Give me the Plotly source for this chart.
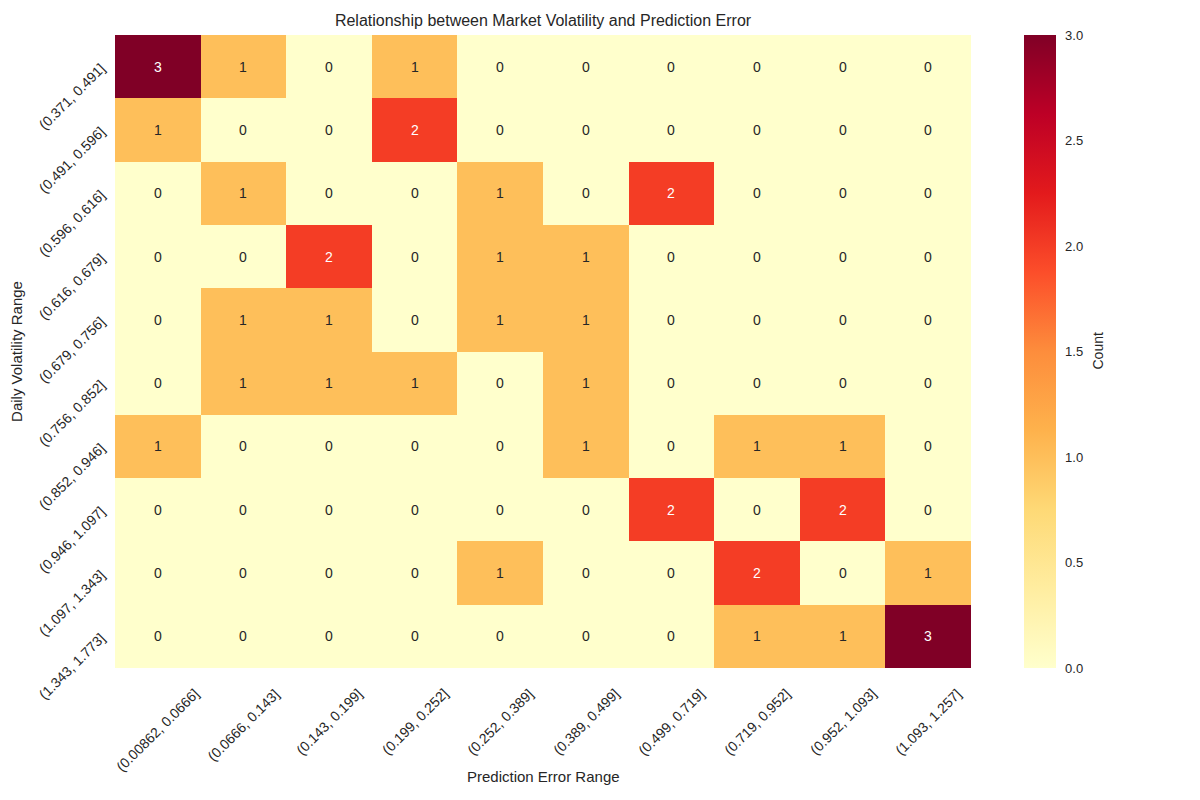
import plotly.graph_objects as go

x_labels = ["(0.00862, 0.0666]", "(0.0666, 0.143]", "(0.143, 0.199]", "(0.199, 0.252]",
            "(0.252, 0.389]", "(0.389, 0.499]", "(0.499, 0.719]", "(0.719, 0.952]",
            "(0.952, 1.093]", "(1.093, 1.257]"]
y_labels = ["(0.371, 0.491]", "(0.491, 0.596]", "(0.596, 0.616]", "(0.616, 0.679]",
            "(0.679, 0.756]", "(0.756, 0.852]", "(0.852, 0.946]", "(0.946, 1.097]",
            "(1.097, 1.343]", "(1.343, 1.773]"]
counts = [
    [3, 1, 0, 1, 0, 0, 0, 0, 0, 0],
    [1, 0, 0, 2, 0, 0, 0, 0, 0, 0],
    [0, 1, 0, 0, 1, 0, 2, 0, 0, 0],
    [0, 0, 2, 0, 1, 1, 0, 0, 0, 0],
    [0, 1, 1, 0, 1, 1, 0, 0, 0, 0],
    [0, 1, 1, 1, 0, 1, 0, 0, 0, 0],
    [1, 0, 0, 0, 0, 1, 0, 1, 1, 0],
    [0, 0, 0, 0, 0, 0, 2, 0, 2, 0],
    [0, 0, 0, 0, 1, 0, 0, 2, 0, 1],
    [0, 0, 0, 0, 0, 0, 0, 1, 1, 3],
]

ylorrd = [
    [0.0, "#ffffcc"], [0.125, "#ffeda0"], [0.25, "#fed976"], [0.375, "#feb24c"],
    [0.5, "#fd8d3c"], [0.625, "#fc4e2a"], [0.75, "#e31a1c"], [0.875, "#bd0026"],
    [1.0, "#800026"],
]

FONT = "Liberation Sans, Arial, DejaVu Sans, sans-serif"
TXT = "#262626"

fig = go.Figure(go.Heatmap(
    z=counts, x=x_labels, y=y_labels, colorscale=ylorrd, zmin=0, zmax=3,
    xgap=0, ygap=0,
    colorbar=dict(
        thickness=32, len=1.0, lenmode="fraction", y=0.5, yanchor="middle",
        x=1.0, xanchor="left", xpad=53, ypad=0, outlinewidth=0,
        tickvals=[0, 0.5, 1, 1.5, 2, 2.5, 3],
        ticktext=["0.0", "0.5", "1.0", "1.5", "2.0", "2.5", "3.0"],
        tickfont=dict(size=13, color=TXT), ticks="outside", ticklen=7,
        tickcolor="rgba(0,0,0,0)",
    ),
    hoverongaps=False,
))

annotations = []
for i, ylab in enumerate(y_labels):
    for j, xlab in enumerate(x_labels):
        v = counts[i][j]
        annotations.append(dict(
            x=xlab, y=ylab, text=str(v), showarrow=False,
            font=dict(size=14, color="white" if v >= 2 else TXT, family=FONT),
        ))

# x tick labels, centred under each column (rotated 45°)
for xlab in x_labels:
    annotations.append(dict(
        x=xlab, xref="x", y=0, yref="paper", text=xlab, showarrow=False,
        textangle=-45, xanchor="center", yanchor="top", yshift=-15,
        font=dict(size=14, color=TXT, family=FONT),
    ))

# axis titles
annotations.append(dict(
    x=0.5, xref="paper", y=0, yref="paper", yshift=-108, yanchor="middle",
    text="Prediction Error Range", showarrow=False,
    font=dict(size=15, color=TXT, family=FONT),
))
annotations.append(dict(
    x=1, xref="paper", xshift=126, y=0.5, yref="paper", xanchor="center",
    yanchor="middle", text="Count", textangle=-90, showarrow=False,
    font=dict(size=14, color=TXT, family=FONT),
))

fig.update_layout(
    width=1200, height=800,
    margin=dict(l=107, r=237, t=27, b=140, autoexpand=False),
    paper_bgcolor="white", plot_bgcolor="white",
    font=dict(family=FONT, color=TXT),
    title=dict(text="Relationship between Market Volatility and Prediction Error",
               x=0.5, xref="paper", y=1, yref="container", yanchor="top", pad=dict(t=7),
               font=dict(size=16, color=TXT)),
    annotations=annotations,
    xaxis=dict(
        showticklabels=False, showgrid=False, zeroline=False,
        ticks="", showline=False, automargin=False,
        range=[-0.5, len(x_labels) - 0.5], autorange=False,
    ),
    yaxis=dict(
        title=dict(text="Daily Volatility Range", font=dict(size=15), standoff=12),
        tickangle=-45, tickfont=dict(size=14), showgrid=False, zeroline=False,
        ticks="", showline=False, ticklabelstandoff=13,
        automargin=False, range=[len(y_labels) - 0.5, -0.5], autorange=False,
    ),
)

fig.write_html("out.html")
